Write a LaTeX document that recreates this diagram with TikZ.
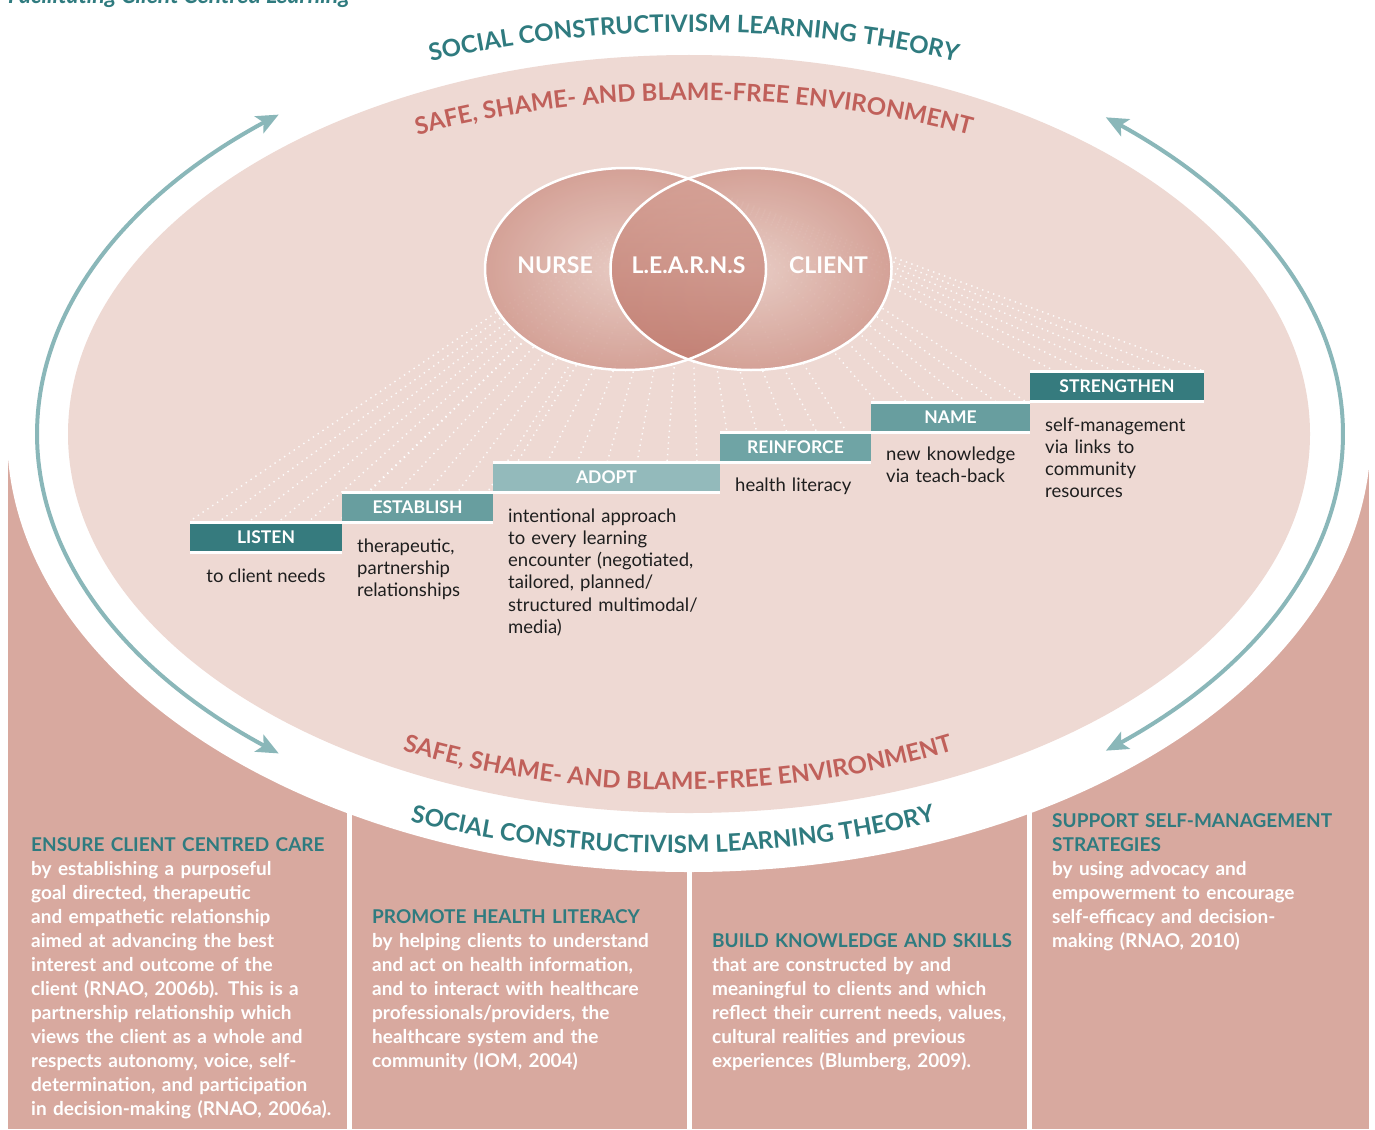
\documentclass[tikz,border=0pt]{standalone}
\usepackage{fontspec}
\setmainfont{Lato}
\usetikzlibrary{decorations.text,arrows.meta}
\definecolor{innerpink}{HTML}{EED9D3}
\definecolor{panelpink}{HTML}{D8A99F}
\definecolor{tealdark}{HTML}{367B7E}
\definecolor{tealmid}{HTML}{689E9F}
\definecolor{tealmidb}{HTML}{6FA4A5}
\definecolor{teallight}{HTML}{93BABB}
\definecolor{arrowteal}{HTML}{8AB7B9}
\definecolor{headteal}{HTML}{2F7B7F}
\definecolor{redtext}{HTML}{C0605A}
\definecolor{vennout}{HTML}{D19A8F}
\definecolor{vennin}{HTML}{E7CAC2}
\definecolor{venndark}{HTML}{BF796D}
\definecolor{vennmid}{HTML}{D6A398}
\definecolor{desctext}{HTML}{1E1E1E}
\begin{document}
\begin{tikzpicture}[x=1pt,y=-1pt,
  barbox/.style={inner sep=0pt, minimum height=27pt, text=white,
    font=\fontsize{17.5}{19}\selectfont\bfseries},
  stepdesc/.style={anchor=base west, inner sep=0pt, text width=240pt, align=left,
    font=\fontsize{18.5}{22.3}\selectfont, text=desctext},
  paneltext/.style={anchor=base west, inner sep=0pt, text width=330pt, align=left,
    font=\fontsize{19}{24}\selectfont\bfseries, text=white},
  vennlbl/.style={inner sep=0pt, anchor=base, text=white,
    font=\fontsize{23}{25}\selectfont\bfseries},
  dualarrow/.style={draw=arrowteal, line width=4pt,
    {Stealth[length=22pt,width=19pt,inset=5pt]}-{Stealth[length=22pt,width=19pt,inset=5pt]}},
  raydots/.style={white, line width=1.4pt, dash pattern=on 1.4pt off 4.4pt, opacity=0.9},
]
\useasboundingbox (0,0) rectangle (1375,1129);
\clip (0,0) rectangle (1375,1129);

% cut-off title
\node[anchor=base west, inner sep=0pt, text=headteal,
  font=\fontsize{23}{25}\selectfont\bfseries\itshape] (title) at (8,4) {Facilitating Client Centred Learning};

% bottom panels
\fill[panelpink] (8,455) rectangle (1369,1129);
\fill[white] (346.5,455) rectangle (352,1129);
\fill[white] (686.5,455) rectangle (692,1129);
\fill[white] (1027,455) rectangle (1032,1129);
\fill[white] (689,434) ellipse (682 and 438);
\fill[innerpink] (689,434) ellipse (621 and 379);

% dotted rays
\foreach \i in {0,...,34} {
  \pgfmathsetmacro\xx{190+\i*29.82}
  \pgfmathsetmacro\yy{\xx<342?521:(\xx<493?491:(\xx<720?461:(\xx<871?431:(\xx<1030?401:371))))}
  \draw[raydots] (688,182) -- (\xx,\yy);
}

% Venn diagram
\shade[inner color=vennin, outer color=vennout, fill opacity=0.88] (625.5,269) ellipse (140.5 and 101);
\shade[inner color=vennin, outer color=vennout, fill opacity=0.88] (751,269) ellipse (140.5 and 101);
\begin{scope}
  \clip (625.5,269) ellipse (140.5 and 101);
  \shade[top color=vennmid, bottom color=venndark, fill opacity=0.8] (751,269) ellipse (140.5 and 101);
\end{scope}
\draw[white, line width=2.5pt] (625.5,269) ellipse (140.5 and 101);
\draw[white, line width=2.5pt] (751,269) ellipse (140.5 and 101);
\node[vennlbl] (nurse) at (555,273) {NURSE};
\node[vennlbl] (learns) at (688.5,273) {L.E.A.R.N.S};
\node[vennlbl] (client) at (828.5,273) {CLIENT};

% step bars (white strips above and below)
\fill[white] (190,520.5) rectangle (342,553.5);
\fill[white] (342,490.5) rectangle (493,523.5);
\fill[white] (493,460.5) rectangle (720,493.5);
\fill[white] (720,430.5) rectangle (871,463.5);
\fill[white] (871,400.5) rectangle (1030,433.5);
\fill[white] (1030,370) rectangle (1204,402.5);
\node[barbox, fill=tealdark, minimum width=152pt] (listen) at (266,537) {LISTEN};
\node[barbox, fill=tealmid, minimum width=151pt] (establish) at (417.5,507) {ESTABLISH};
\node[barbox, fill=teallight, minimum width=227pt] (adopt) at (606.5,477) {ADOPT};
\node[barbox, fill=tealmidb, minimum width=151pt] (reinforce) at (795.5,447) {REINFORCE};
\node[barbox, fill=tealmid, minimum width=159pt] (name) at (950.5,417) {NAME};
\node[barbox, fill=tealdark, minimum width=174pt] (strengthen) at (1117,386.5) {STRENGTHEN};

% step descriptions
\node[anchor=base, inner sep=0pt, font=\fontsize{18.5}{22.3}\selectfont, text=desctext] (dlisten) at (266,582) {to client needs};
\node[stepdesc] (destablish) at (357,552) {therapeutic,\\partnership\\relationships};
\node[stepdesc] (dadopt) at (508,522) {intentional approach\\to every learning\\encounter (negotiated,\\tailored, planned/\\structured multimodal/\\media)};
\node[stepdesc] (dreinforce) at (735,491) {health literacy};
\node[stepdesc] (dname) at (886,460) {new knowledge\\via teach-back};
\node[stepdesc] (dstrengthen) at (1045,431) {self-management\\via links to\\community\\resources};

% panel texts
\node[paneltext] (p1) at (31,851) {\textcolor{headteal}{ENSURE CLIENT CENTRED CARE}\\by establishing a purposeful\\goal directed, therapeutic\\and empathetic relationship\\aimed at advancing the best\\interest and outcome of the\\client (RNAO, 2006b). This is a\\partnership relationship which\\views the client as a whole and\\respects autonomy, voice, self-\\determination, and participation\\in decision-making (RNAO, 2006a).};
\node[paneltext] (p2) at (372,923) {\textcolor{headteal}{PROMOTE HEALTH LITERACY}\\by helping clients to understand\\and act on health information,\\and to interact with healthcare\\professionals/providers, the\\healthcare system and the\\community (IOM, 2004)};
\node[paneltext] (p3) at (712,947) {\textcolor{headteal}{BUILD KNOWLEDGE AND SKILLS}\\that are constructed by and\\meaningful to clients and which\\reflect their current needs, values,\\cultural realities and previous\\experiences (Blumberg, 2009).};
\node[paneltext] (p4) at (1052,827) {\textcolor{headteal}{SUPPORT SELF-MANAGEMENT}\\\textcolor{headteal}{STRATEGIES}\\by using advocacy and\\empowerment to encourage\\self-efficacy and decision-\\making (RNAO, 2010)};

% cycle arrows
\draw[dualarrow] plot[domain=129:231, samples=120] ({689+652*cos(\x)},{434+411*sin(\x)});
\draw[dualarrow] plot[domain=-50.4:50.4, samples=120] ({689+654*cos(\x)},{434+411*sin(\x)});

% curved texts
\path[decorate, decoration={text along path, text align=center, text color=headteal,
  text={|\fontsize{24}{24}\selectfont\bfseries|SOCIAL CONSTRUCTIVISM LEARNING THEORY}}]
  plot[domain=200:340, samples=150] ({694+700*cos(\x)},{434+402*sin(\x)});
\path[decorate, decoration={text along path, text align=center, text color=redtext,
  text={|\fontsize{24}{24}\selectfont\bfseries|SAFE, SHAME- AND BLAME-FREE ENVIRONMENT}}]
  plot[domain=200:340, samples=150] ({694+620*cos(\x)},{434+334*sin(\x)});
\path[decorate, decoration={text along path, text align=center, text color=redtext,
  text={|\fontsize{24}{24}\selectfont\bfseries|SAFE, SHAME- AND BLAME-FREE ENVIRONMENT}}]
  plot[domain=20:160, samples=150] ({678-600*cos(\x)},{434+356*sin(\x)});
\path[decorate, decoration={text along path, text align=center, text color=headteal,
  text={|\fontsize{24}{24}\selectfont\bfseries|SOCIAL CONSTRUCTIVISM LEARNING THEORY}}]
  plot[domain=20:160, samples=150] ({673-686*cos(\x)},{434+419*sin(\x)});
\end{tikzpicture}
\end{document}
